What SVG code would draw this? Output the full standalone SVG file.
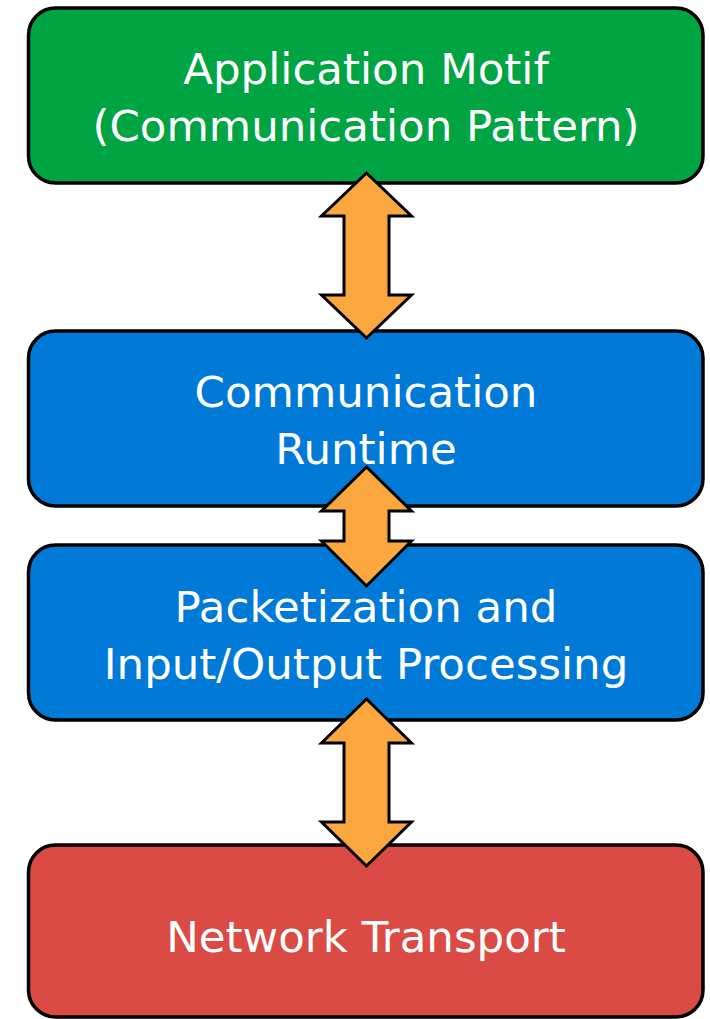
<svg xmlns="http://www.w3.org/2000/svg" width="710" height="1019" viewBox="0 0 710 1019">
<style>
.box{stroke:#000;stroke-width:3.5}
.lbl{font-family:"DejaVu Sans",sans-serif;font-size:43.5px;fill:#fff;text-anchor:middle}
.arr{fill:#FBA73F;stroke:#000;stroke-width:3;stroke-linejoin:miter}
</style>
<rect width="710" height="1019" fill="#fff"/>
<g id="motif">
<rect class="box" x="28.5" y="8" width="674.5" height="175" rx="27" fill="#00A443"/>
<text class="lbl" x="366" y="84">Application Motif</text>
<text class="lbl" x="366" y="141">(Communication Pattern)</text>
</g>
<g id="runtime">
<rect class="box" x="28.5" y="331" width="674.5" height="175" rx="27" fill="#007AD6"/>
<text class="lbl" x="366" y="407">Communication</text>
<text class="lbl" x="366" y="464">Runtime</text>
</g>
<g id="packet">
<rect class="box" x="28.5" y="545" width="674.5" height="175" rx="27" fill="#007AD6"/>
<text class="lbl" x="366" y="622">Packetization and</text>
<text class="lbl" x="366" y="679">Input/Output Processing</text>
</g>
<g id="transport">
<rect class="box" x="28.5" y="845" width="674.5" height="172" rx="27" fill="#D94B44"/>
<text class="lbl" x="366" y="952">Network Transport</text>
</g>
<g id="connectors">
<polygon class="arr" points="366.5,173 411.5,216 389,216 389,295 411.5,295 366.5,338 321.5,295 344,295 344,216 321.5,216"/>
<polygon class="arr" points="366.5,467 411.5,511 389,511 389,541 411.5,541 366.5,586 321.5,541 344,541 344,511 321.5,511"/>
<polygon class="arr" points="366.5,699 411.5,743 389,743 389,822 411.5,822 366.5,866 321.5,822 344,822 344,743 321.5,743"/>
</g>
</svg>
